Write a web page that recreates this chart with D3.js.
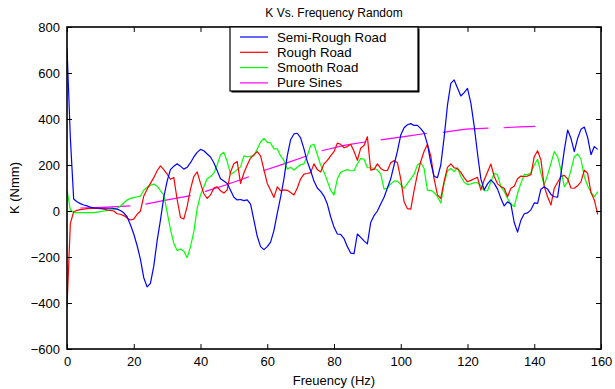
<!DOCTYPE html>
<html>
<head>
<meta charset="utf-8">
<script src="https://cdn.jsdelivr.net/npm/d3@7/dist/d3.min.js"></script>
<style>
  html, body { margin: 0; padding: 0; background: #fff; }
  svg { display: block; font-family: "Liberation Sans", Arial, sans-serif; }
</style>
</head>
<body>
<svg id="chart" width="615" height="389"></svg>
<script>
// Frequency axis, 1 Hz steps
const freq = d3.range(0, 160);

const semiRough = [710,320,52,40,32,26,22,17,14,13,12,12,12,12,11,8,2,-8,-25,-60,
  -100,-150,-210,-290,-330,-315,-240,-130,-40,60,130,180,195,205,195,182,190,210,235,255,
  268,262,248,235,210,175,140,130,120,90,60,48,50,45,48,30,-40,-110,-155,-168,
  -155,-135,-85,-10,60,140,240,310,335,338,318,270,215,175,130,100,85,65,30,-25,
  -70,-100,-102,-120,-155,-183,-185,-100,-115,-130,-143,-50,-20,0,30,60,100,140,200,260,
  330,362,375,380,372,372,358,340,290,210,150,145,200,320,460,555,570,535,500,515,
  533,470,370,250,140,92,118,135,120,95,55,22,40,30,-50,-92,-40,-12,-8,5,
  35,33,95,105,95,72,62,60,160,265,352,316,258,316,355,365,320,245,280,268];

const rough = [-420,-55,-3,3,6,8,10,11,12,11,10,8,5,3,0,-12,-14,-20,-30,-39,
  -35,-15,0,65,95,120,145,175,196,180,160,138,146,50,-28,-35,20,95,150,170,
  120,75,55,70,100,105,88,78,92,170,205,215,120,165,200,230,245,258,240,180,
  120,90,59,105,88,92,90,80,70,100,140,160,163,167,205,180,170,205,220,240,
  258,295,290,275,280,290,260,220,273,285,323,178,181,205,185,176,176,210,219,210,
  140,40,10,8,90,160,215,260,290,240,140,70,55,130,190,205,188,184,168,145,
  127,133,140,146,91,135,170,204,150,118,106,99,62,99,108,140,152,150,152,158,
  236,262,222,106,62,26,99,125,150,155,140,100,99,110,127,178,164,80,48,-15];

const smooth = [91,5,-6,-7,-7,-7,-7,-7,-7,-5,-3,0,2,4,6,12,22,35,48,55,
  58,62,65,90,103,112,117,108,88,70,-5,-80,-140,-172,-165,-175,-203,-155,-90,10,
  70,105,140,150,165,200,245,255,215,160,168,180,192,240,236,238,240,270,300,316,
  298,296,270,270,240,220,182,190,178,190,202,205,240,285,290,245,200,170,130,90,
  70,140,168,175,180,175,175,205,229,225,188,188,185,178,160,95,100,118,130,130,
  115,99,120,140,160,200,210,185,90,90,80,62,35,120,175,185,171,188,150,125,
  115,118,123,123,110,88,88,127,164,157,106,85,55,30,19,77,120,159,158,165,
  200,225,164,113,157,207,258,236,178,106,127,178,236,248,225,149,110,80,62,84];

// Pure-sine results: separate sweeps, null marks a break between runs
const sineFreq = [4,12,19,null,23.5,30,37,null,41.3,48,54.5,null,58.8,65,71.8,null,
  76.3,83,89.7,null,94,101,107.8,null,112.6,119.5,126.3,null,130.8,135.5,140.3];
const sineK = [13,17,22,null,30,48,67,null,84,115,149,null,175,205,239,null,
  262,285,301,null,309,323,338,null,342,356,360,null,362,366,368];

const xTicks = [0,20,40,60,80,100,120,140,160];
const yTicks = [-600,-400,-200,0,200,400,600,800];

const seriesNames = ["Semi-Rough Road","Rough Road","Smooth Road","Pure Sines"];
const seriesColors = ["#0000ff","#ff0000","#00ff00","#ff00ff"];

const svg = d3.select("#chart");
const mLeft = 67, mRight = 601, mTop = 27, mBottom = 349;

const x = d3.scaleLinear().domain([0,160]).range([mLeft,mRight]);
const y = d3.scaleLinear().domain([-600,800]).range([mBottom,mTop]);

svg.append("defs").append("clipPath").attr("id","clip")
  .append("rect").attr("x",mLeft).attr("y",mTop).attr("width",mRight-mLeft).attr("height",mBottom-mTop);

const lineGen = d3.line()
  .defined(d => d[0] != null && d[1] != null)
  .x(d => x(d[0])).y(d => y(d[1]));

const curves = [
  freq.map((f,i) => [f, semiRough[i]]),
  freq.map((f,i) => [f, rough[i]]),
  freq.map((f,i) => [f, smooth[i]]),
  sineFreq.map((f,i) => [f, sineK[i]])
];

const linesG = svg.append("g").attr("clip-path","url(#clip)");
// draw order: sines first, then green, red, blue
[3,2,1,0].forEach(k => {
  linesG.append("path")
    .datum(curves[k])
    .attr("fill","none")
    .attr("stroke",seriesColors[k])
    .attr("stroke-width",1.2)
    .attr("stroke-linejoin","round")
    .attr("d",lineGen);
});

// axes with inward ticks on all four sides
const tickLen = 5;
const axisFont = "13px";
const xb = svg.append("g").attr("transform",`translate(0,${mBottom})`)
  .call(d3.axisBottom(x).tickValues(xTicks).tickSizeInner(-tickLen).tickSizeOuter(0).tickPadding(8).tickFormat(d3.format("d")));
const xt = svg.append("g").attr("transform",`translate(0,${mTop})`)
  .call(d3.axisTop(x).tickValues(xTicks).tickSizeInner(-tickLen).tickSizeOuter(0).tickFormat(""));
const yl = svg.append("g").attr("transform",`translate(${mLeft},0)`)
  .call(d3.axisLeft(y).tickValues(yTicks).tickSizeInner(-tickLen).tickSizeOuter(0).tickPadding(7).tickFormat(d3.format("d")));
const yr = svg.append("g").attr("transform",`translate(${mRight},0)`)
  .call(d3.axisRight(y).tickValues(yTicks).tickSizeInner(-tickLen).tickSizeOuter(0).tickFormat(""));

[xb,xt,yl,yr].forEach(g => {
  g.select(".domain").remove();
  g.selectAll(".tick line").attr("stroke","#000").attr("stroke-width",1);
  g.selectAll(".tick text").attr("fill","#000").style("font-size",axisFont)
    .style("font-family","'Liberation Sans', Arial, sans-serif");
});

// frame
svg.append("rect").attr("x",mLeft).attr("y",mTop)
  .attr("width",mRight-mLeft).attr("height",mBottom-mTop)
  .attr("fill","none").attr("stroke","#000").attr("stroke-width",1.6);

// legend
const lg = svg.append("g");
const lx = 230, ly = 27, lw = 188, lh = 64;
lg.append("rect").attr("x",lx+1.5).attr("y",ly+1.5).attr("width",lw).attr("height",lh)
  .attr("fill","#000");
lg.append("rect").attr("x",lx).attr("y",ly).attr("width",lw).attr("height",lh)
  .attr("fill","#fff").attr("stroke","#000").attr("stroke-width",1.2);
seriesNames.forEach((name,i) => {
  const yy = ly + 10 + i*15.3;
  lg.append("line").attr("x1",lx+10).attr("x2",lx+38).attr("y1",yy).attr("y2",yy)
    .attr("stroke",seriesColors[i]).attr("stroke-width",1.2);
  lg.append("text").attr("x",lx+47).attr("y",yy+4.5).text(name)
    .style("font-size","13.3px").attr("fill","#000");
});

// titles
svg.append("text").attr("x",(mLeft+mRight)/2).attr("y",17).attr("text-anchor","middle")
  .style("font-size","12px").text("K Vs. Frequency Random");
svg.append("text").attr("x",(mLeft+mRight)/2).attr("y",385).attr("text-anchor","middle")
  .style("font-size","13px").text("Freuency (Hz)");
svg.append("text").attr("transform",`translate(19,${(mTop+mBottom)/2}) rotate(-90)`)
  .attr("text-anchor","middle").style("font-size","13px").text("K (Nmm)");
</script>
</body>
</html>
